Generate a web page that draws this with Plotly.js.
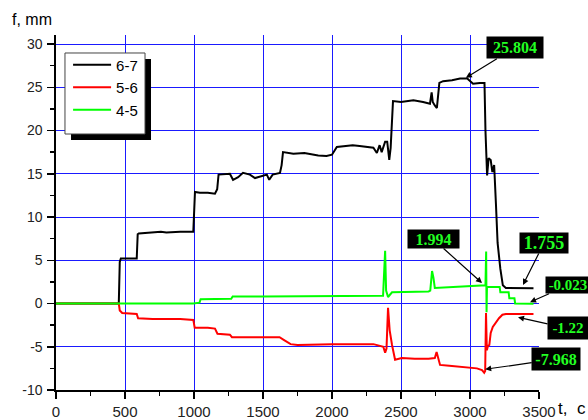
<!DOCTYPE html>
<html>
<head>
<meta charset="utf-8">
<script src="https://cdn.plot.ly/plotly-3.0.1.min.js"></script>
<style>html,body{margin:0;padding:0;background:#fff;}#chart{width:588px;height:420px;}</style>
</head>
<body>
<div id="chart"></div>
<script>
// Series 6-7 (black)
const t67 = [0,455,462,470,585,592,600,700,760,800,900,995,1000,1007,1043,1100,1152,1168,1178,1230,1260,1283,1320,1355,1405,1442,1490,1528,1545,1570,1623,1635,1645,1720,1800,1855,1900,1960,2000,2035,2100,2150,2200,2250,2300,2325,2345,2360,2385,2400,2415,2425,2435,2442,2500,2590,2660,2710,2722,2730,2745,2760,2778,2805,2870,2928,2980,3022,3072,3105,3112,3118,3124,3135,3150,3162,3175,3188,3200,3220,3238,3260,3300,3400,3460];
const v67 = [0,0,4.8,5.2,5.2,8.0,8.1,8.2,8.3,8.2,8.3,8.3,10.5,12.9,12.8,12.8,12.7,13.2,14.9,15.0,15.0,14.3,14.6,15.1,14.9,14.5,14.7,14.9,14.3,14.9,15.1,16.0,17.5,17.3,17.4,17.2,17.1,17.05,17.2,18.1,18.2,18.3,18.2,18.1,18.0,17.4,18.3,17.5,18.7,18.7,16.6,18.0,22.5,23.4,23.3,23.5,23.3,23.1,24.4,23.3,22.9,22.6,25.5,25.7,25.8,26.0,26.0,25.4,25.5,25.5,20.0,17.0,14.8,16.8,16.6,15.2,16.0,11.5,7.0,4.0,2.1,1.8,1.78,1.76,1.755];

// Series 5-6 (red)
const t56 = [0,455,462,480,585,595,700,800,900,995,1005,1100,1152,1170,1260,1275,1400,1500,1620,1650,1700,1750,2000,2300,2372,2385,2395,2406,2418,2435,2457,2505,2600,2700,2733,2745,2758,2770,2783,2850,2905,3000,3050,3087,3103,3110,3116,3122,3130,3140,3150,3165,3190,3210,3235,3260,3300,3460];
const v56 = [0,0,-0.8,-1.1,-1.2,-1.7,-1.8,-1.8,-1.8,-1.9,-2.8,-2.8,-2.9,-3.5,-3.6,-3.9,-3.9,-3.9,-3.9,-4.2,-4.7,-4.8,-4.7,-4.7,-5.0,-5.7,-5.2,-0.5,-3.1,-4.8,-6.5,-6.3,-6.4,-6.4,-6.3,-6.3,-5.6,-6.5,-7.1,-7.2,-7.3,-7.4,-7.5,-7.7,-8.0,-7.8,-1.1,-5.4,-4.9,-4.8,-3.4,-2.7,-2.1,-1.7,-1.3,-1.22,-1.2,-1.22];

// Series 4-5 (green)
const t45 = [0,500,995,1040,1048,1270,1280,1500,2000,2370,2385,2392,2406,2435,2700,2712,2725,2735,2745,2800,2900,3000,3100,3112,3117,3120,3123,3215,3220,3280,3285,3322,3327,3460];
const v45 = [0,0,0,0.1,0.5,0.55,0.8,0.8,0.85,0.9,6.1,1.5,0.75,1.3,1.4,1.5,3.75,3.0,1.8,1.85,1.9,2.0,2.1,2.1,6.0,-1.0,1.9,1.9,1.3,1.3,0.6,0.6,0.0,-0.023];

const seriesNames = ['6-7','5-6','4-5'];
const xTicks = [0,500,1000,1500,2000,2500,3000,3500];
const yTicks = [-10,-5,0,5,10,15,20,25,30];

// Callout labels
const calloutT = [2970, 3087, 3384, 3435, 3348, 3110];
const calloutV = [26.1, 2.37, 2.14, 0.15, -1.6, -7.6];
const calloutText = ['25.804','1.994','1.755','-0.023','-1.22','-7.968'];
const calloutAx = [49, -49, 21, 38, 50, 71];
const calloutAy = [-30, -44, -42, -17, 11, -10];
const calloutW = [56, 51, 48, 44, 40, 48];
const calloutH = [21, 18, 20, 16, 22, 22];
const calloutSize = [16, 16, 18, 15, 15, 16];

const traces = [
  {x:t67, y:v67, name:seriesNames[0], mode:'lines', line:{color:'#000000', width:2}},
  {x:t56, y:v56, name:seriesNames[1], mode:'lines', line:{color:'#ff0000', width:2}},
  {x:t45, y:v45, name:seriesNames[2], mode:'lines', line:{color:'#00ff00', width:2}}
];

const annotations = calloutText.map((txt,i)=>({
  x: calloutT[i], y: calloutV[i], xref:'x', yref:'y',
  text: '<b>'+txt+'</b>', showarrow:true, ax: calloutAx[i], ay: calloutAy[i],
  arrowhead:2, arrowsize:1, arrowwidth:1.2, arrowcolor:'#000',
  bgcolor:'#000', borderpad:0, width: calloutW[i], height: calloutH[i],
  font:{family:'"Times New Roman","Liberation Serif",serif', size: calloutSize[i], color:'#22ff22'}
}));
annotations.push({xref:'paper', yref:'paper', x:-0.0497, y:1.045, xanchor:'center', yanchor:'middle', text:'f, mm', showarrow:false,
  font:{family:'Arial,"Liberation Sans",sans-serif', size:16, color:'#000'}});
annotations.push({xref:'paper', yref:'paper', x:1.068, y:-0.0535, xanchor:'center', yanchor:'middle', text:'t,\u00a0\u00a0c', showarrow:false,
  font:{family:'Arial,"Liberation Sans",sans-serif', size:17, color:'#000'}});

const layout = {
  width:588, height:420,
  margin:{l:56, r:49, t:35, b:30, pad:0},
  paper_bgcolor:'#fff', plot_bgcolor:'#fff',
  font:{family:'Arial,"Liberation Sans",sans-serif', size:14, color:'#222'},
  showlegend:true,
  legend:{x:0.025, y:0.962, xanchor:'left', yanchor:'top', bgcolor:'rgba(0,0,0,0)', borderwidth:0,
    font:{family:'Arial,"Liberation Sans",sans-serif', size:15, color:'#000'}, itemwidth:38, tracegroupgap:0},
  xaxis:{range:[0,3500], tickvals:xTicks, ticktext:xTicks.map(String), ticks:'outside', ticklen:7, tickwidth:1.5, tickcolor:'#000',
    showline:true, linecolor:'#000', linewidth:1.6, showgrid:true, gridcolor:'#1a1aff', gridwidth:1, zeroline:false,
    minor:{dtick:250, tick0:0, ticks:'outside', ticklen:4, tickwidth:1.5, tickcolor:'#000', showgrid:false},
    tickfont:{size:15, color:'#222'}},
  yaxis:{range:[-10,31.04], tickvals:yTicks, ticktext:yTicks.map(String), ticks:'outside', ticklen:7, tickwidth:1.5, tickcolor:'#000',
    showline:true, linecolor:'#000', linewidth:1.6, showgrid:true, gridcolor:'#1a1aff', gridwidth:1, zeroline:false,
    ticklabelstandoff:2,
    minor:{dtick:2.5, tick0:0, ticks:'outside', ticklen:4, tickwidth:1.5, tickcolor:'#000', showgrid:false},
    tickfont:{size:14, color:'#222'}},
  shapes:[
    {type:'line', xref:'paper', yref:'paper', x0:0.1905, x1:0.1905, y0:0.7042, y1:0.9324, line:{color:'#000', width:6}, layer:'above'},
    {type:'line', xref:'paper', yref:'paper', x0:0.0311, x1:0.1967, y0:0.7127, y1:0.7127, line:{color:'#000', width:6}, layer:'above'},
    {type:'rect', xref:'paper', yref:'paper', x0:0.0186, x1:0.1843, y0:0.7211, y1:0.9493, fillcolor:'#fff', line:{color:'#444', width:1}, layer:'above'}
  ],
  annotations: annotations
};

Plotly.newPlot('chart', traces, layout, {displayModeBar:false, staticPlot:true});
</script>
</body>
</html>
